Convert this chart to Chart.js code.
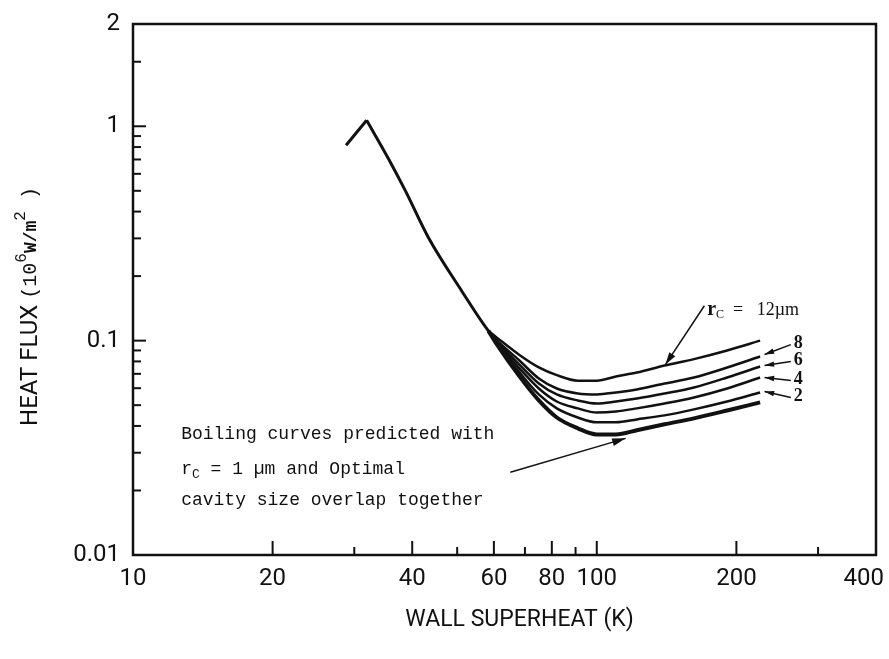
<!DOCTYPE html>
<html lang="en">
<head>
<meta charset="UTF-8">
<title>Boiling curves</title>
<script src="https://cdn.jsdelivr.net/npm/chart.js"></script>
<style>
  body { margin: 0; background: #fff; }
  .chart-box { width: 889px; height: 659px; }
</style>
</head>
<body>
<div class="chart-box"><canvas id="boilingChart"></canvas></div>
<script>
// rising part up to the peak, then the common falling part
const riseX = [28.8, 31.9];
const riseY = [0.816, 1.066];
const fallX = [31.9, 35.6, 38.7, 43.4, 51.1, 58.4, 61];
const fallY = [1.066, 0.702, 0.498, 0.301, 0.171, 0.111, 0.1];

// branches for different cavity radii, all on the same superheat grid
const branchX = [58.4, 61, 68, 75, 82, 91, 100, 110, 122, 140, 162, 191, 225];
const rc12 = [0.111, 0.103, 0.086, 0.075, 0.069, 0.065, 0.065, 0.068, 0.071, 0.0765, 0.082, 0.090, 0.100];
const rc8  = [0.111, 0.100, 0.081, 0.0666, 0.0598, 0.0567, 0.0561, 0.0573, 0.0592, 0.0631, 0.0673, 0.0749, 0.0843];
const rc6  = [0.111, 0.099, 0.0775, 0.0631, 0.0561, 0.0526, 0.0509, 0.0520, 0.0537, 0.0567, 0.0605, 0.0673, 0.0757];
const rc4  = [0.111, 0.0975, 0.0745, 0.0598, 0.0520, 0.0483, 0.0462, 0.0467, 0.0483, 0.0509, 0.0543, 0.0598, 0.0673];
const rc2  = [0.111, 0.0965, 0.0715, 0.0561, 0.0483, 0.0438, 0.0416, 0.0416, 0.0429, 0.0448, 0.0478, 0.0520, 0.0573];
const rc1  = [0.111, 0.0955, 0.0685, 0.0526, 0.0438, 0.0390, 0.0365, 0.0365, 0.0382, 0.0407, 0.0434, 0.0472, 0.0515];

// axis ticks (the last x label sits a little left of its tick in the original)
const xTickValues = [10, 20, 30, 40, 50, 60, 70, 80, 90, 100, 200, 300, 400];
const xTickLabels = ['10', '20', '', '40', '', '60', '', '80', '', '100', '200', '', '400\u2003'];
const yTickValues = [0.01, 0.02, 0.03, 0.04, 0.05, 0.06, 0.07, 0.08, 0.09,
                     0.1, 0.2, 0.3, 0.4, 0.5, 0.6, 0.7, 0.8, 0.9, 1, 2, 3];
const yTickLabels = ['0.01', '', '', '', '', '', '', '', '',
                     '0.1', '', '', '', '', '', '', '', '', '1', '', '2'];

// curve-number labels: [text, label x, label y, arrow tip x, arrow tip y]
const curveTags = [
    ['8', 266, 0.0968, 230, 0.0861],
    ['6', 266, 0.0807, 230, 0.0765],
    ['4', 266, 0.0659, 230, 0.0673],
    ['2', 266, 0.0549, 230, 0.0579]
];

const INK = '#111';
const sans = "Roboto, 'Liberation Sans', sans-serif";
const mono = "'Liberation Mono', 'DejaVu Sans Mono', monospace";
const serif = "'Liberation Serif', 'DejaVu Serif', serif";

const toPoints = (xs, ys) => xs.map((x, i) => ({ x: x, y: ys[i] }));

function curve(xs, ys, width) {
    return {
        data: toPoints(xs, ys),
        borderColor: INK,
        borderWidth: width,
        pointRadius: 0,
        showLine: true,
        fill: false,
        cubicInterpolationMode: 'monotone'
    };
}

function labelFor(values, labels, v) {
    const i = values.findIndex(t => Math.abs(t - v) / t < 1e-6);
    return i < 0 ? '' : labels[i];
}

function arrow(ctx, x1, y1, x2, y2, head) {
    ctx.beginPath();
    ctx.moveTo(x1, y1);
    ctx.lineTo(x2, y2);
    ctx.stroke();
    const ang = Math.atan2(y2 - y1, x2 - x1);
    ctx.beginPath();
    ctx.moveTo(x2, y2);
    ctx.lineTo(x2 - head * Math.cos(ang - 0.28), y2 - head * Math.sin(ang - 0.28));
    ctx.lineTo(x2 - head * Math.cos(ang + 0.28), y2 - head * Math.sin(ang + 0.28));
    ctx.closePath();
    ctx.fill();
}

// draws a list of [text, font, dy] pieces one after another from x
function runs(ctx, pieces, x, y) {
    pieces.forEach(([t, f, dy]) => {
        ctx.font = f;
        ctx.fillText(t, x, y + dy);
        x += ctx.measureText(t).width;
    });
}

function runsWidth(ctx, pieces) {
    return pieces.reduce((w, [t, f]) => { ctx.font = f; return w + ctx.measureText(t).width; }, 0);
}

// frame + inward tick marks + axis titles + annotations
const decorations = {
    id: 'decorations',
    afterDraw(chart) {
        const { ctx, chartArea: a, scales: { x, y } } = chart;
        ctx.save();
        ctx.strokeStyle = INK;
        ctx.fillStyle = INK;
        ctx.lineWidth = 2.5;
        ctx.strokeRect(a.left, a.top, a.right - a.left, a.bottom - a.top);

        ctx.lineWidth = 2;
        xTickValues.forEach((v, i) => {
            if (v === 10 || v === 400) return;
            const px = x.getPixelForValue(v);
            const len = xTickLabels[i] ? 14 : 8;
            ctx.beginPath();
            ctx.moveTo(px, a.bottom);
            ctx.lineTo(px, a.bottom - len);
            ctx.stroke();
        });
        yTickValues.forEach((v, i) => {
            if (v === 0.01 || v === 3) return;
            const py = y.getPixelForValue(v);
            const len = yTickLabels[i] ? 13 : 8;
            ctx.beginPath();
            ctx.moveTo(a.left, py);
            ctx.lineTo(a.left + len, py);
            ctx.stroke();
        });

        // axis titles
        ctx.textBaseline = 'middle';
        ctx.textAlign = 'center';
        ctx.font = '23px ' + sans;
        ctx.fillText('WALL SUPERHEAT (K)', (a.left + a.right) / 2 + 15, 620);

        ctx.textAlign = 'left';
        const yTitle = [
            ['HEAT FLUX ', '24px ' + sans, 0],
            ['(10', '20px ' + mono, 0],
            ['6', '16px ' + mono, -9],
            ['W/m', 'bold 18px ' + mono, 0],
            ['2', '16px ' + mono, -10],
            [' )', '20px ' + mono, 0]
        ];
        ctx.save();
        ctx.translate(31, (a.top + a.bottom) / 2 + 17);
        ctx.rotate(-Math.PI / 2);
        runs(ctx, yTitle, -runsWidth(ctx, yTitle) / 2, 0);
        ctx.restore();

        // r_c = 12 um label and arrow
        ctx.lineWidth = 1.5;
        arrow(ctx, x.getPixelForValue(170.6), y.getPixelForValue(0.1455),
                   x.getPixelForValue(140.6), y.getPixelForValue(0.0773), 13);
        let tx = x.getPixelForValue(173), ty = y.getPixelForValue(0.139);
        runs(ctx, [
            ['r', 'bold 20px ' + serif, 0],
            ['C', '12px ' + serif, 5],
            ['  =   12\u00b5m', '18px ' + serif, 0]
        ], tx, ty);

        // curve number tags
        ctx.lineWidth = 1.5;
        curveTags.forEach(([t, lx, ly, ax, ay]) => {
            const px = x.getPixelForValue(lx), py = y.getPixelForValue(ly);
            arrow(ctx, px - 3, py + 1, x.getPixelForValue(ax), y.getPixelForValue(ay), 10);
            ctx.font = 'bold 18px ' + serif;
            ctx.fillText(t, px, py);
        });

        // bottom annotation
        ctx.lineWidth = 1.5;
        arrow(ctx, x.getPixelForValue(65.1), y.getPixelForValue(0.0243),
                   x.getPixelForValue(115.4), y.getPixelForValue(0.0350), 14);
        tx = x.getPixelForValue(12.7);
        ctx.font = '18px ' + mono;
        ctx.fillText('Boiling curves predicted with', tx, y.getPixelForValue(0.0365));
        runs(ctx, [
            ['r', '18px ' + mono, 0],
            ['C', '13px ' + mono, 5],
            [' = 1 \u00b5m and Optimal', '18px ' + mono, 0]
        ], tx, y.getPixelForValue(0.0251));
        ctx.font = '18px ' + mono;
        ctx.fillText('cavity size overlap together', tx, y.getPixelForValue(0.0180));
        ctx.restore();
    }
};

new Chart(document.getElementById('boilingChart'), {
    type: 'scatter',
    data: {
        datasets: [
            curve(riseX, riseY, 3),
            curve(fallX, fallY, 3),
            curve(branchX, rc12, 2.5),
            curve(branchX, rc8, 2.5),
            curve(branchX, rc6, 2.5),
            curve(branchX, rc4, 2.5),
            curve(branchX, rc2, 2.5),
            curve(branchX, rc1, 4)
        ]
    },
    options: {
        responsive: true,
        maintainAspectRatio: false,
        animation: false,
        layout: { padding: { top: 24, right: 13, left: 0, bottom: 0 } },
        plugins: { legend: { display: false }, tooltip: { enabled: false } },
        scales: {
            x: {
                type: 'logarithmic',
                min: 10,
                max: 400,
                grid: { display: false, drawTicks: false },
                border: { display: false },
                afterBuildTicks: s => { s.ticks = xTickValues.map(v => ({ value: v })); },
                afterFit: s => { s.height = 104; s.paddingRight = 0; s.paddingLeft = 0; },
                ticks: {
                    autoSkip: false,
                    maxRotation: 0,
                    padding: 10,
                    color: INK,
                    font: { family: sans, size: 24 },
                    callback: v => labelFor(xTickValues, xTickLabels, v)
                }
            },
            y: {
                type: 'logarithmic',
                min: 0.01,
                max: 3,
                grid: { display: false, drawTicks: false },
                border: { display: false },
                afterBuildTicks: s => { s.ticks = yTickValues.map(v => ({ value: v })); },
                afterFit: s => { s.width = 133; s.paddingTop = 0; s.paddingBottom = 0; },
                ticks: {
                    autoSkip: false,
                    padding: 13,
                    color: INK,
                    font: { family: sans, size: 24 },
                    callback: v => labelFor(yTickValues, yTickLabels, v)
                }
            }
        }
    },
    plugins: [decorations]
});
</script>
</body>
</html>
